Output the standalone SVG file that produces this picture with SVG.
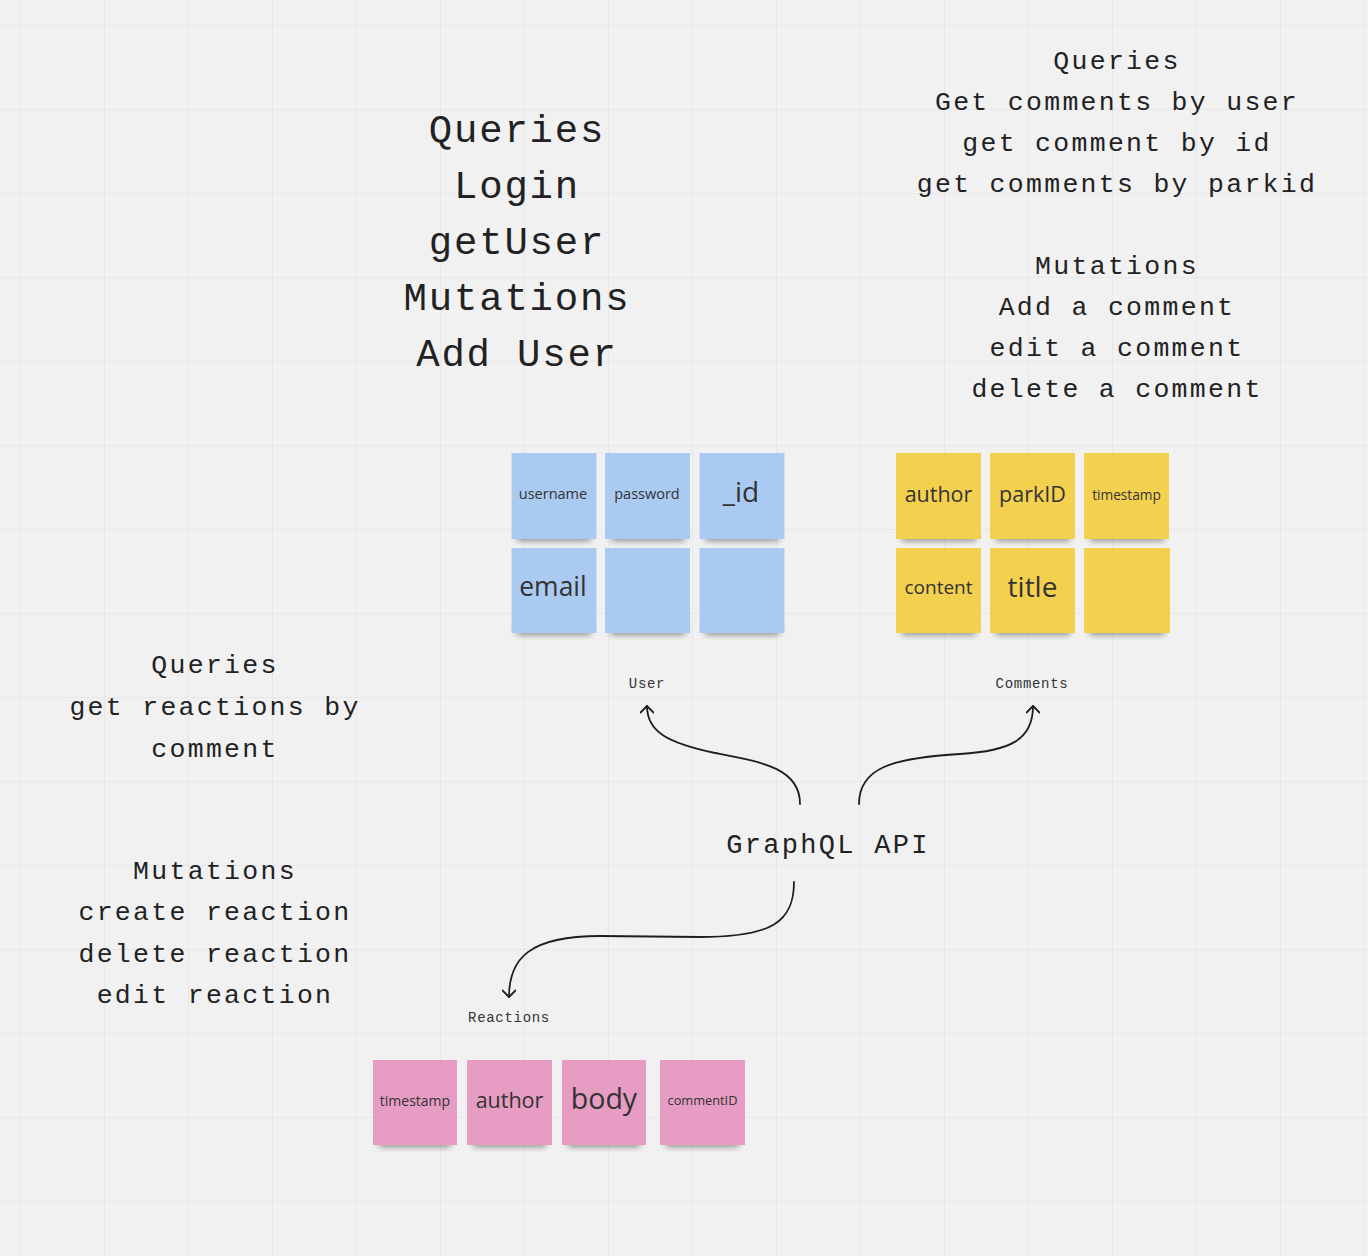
<svg xmlns="http://www.w3.org/2000/svg" width="1368" height="1256" viewBox="0 0 1368 1256">
<defs>
<pattern id="grid" x="20" y="25" width="84" height="84" patternUnits="userSpaceOnUse">
<path d="M0 0 H84 M0 0 V84" stroke="#e3e3e5" stroke-width="1.5" fill="none"/>
</pattern>
<filter id="sh" x="-20%" y="-50%" width="140%" height="200%">
<feGaussianBlur stdDeviation="3"/>
</filter>
<marker id="ah" viewBox="0 0 14 14" refX="8" refY="7" markerWidth="14" markerHeight="14" markerUnits="userSpaceOnUse" orient="auto">
<path d="M1.5 0.5 L8 7 L1.5 13.5" fill="none" stroke="#1e1e1e" stroke-width="1.8" stroke-linecap="round" stroke-linejoin="round"/>
</marker>
</defs>
<style>
.mono{font-family:"Liberation Mono","DejaVu Sans Mono",monospace;fill:#222;text-anchor:middle}
.big{font-size:39px;letter-spacing:1.8px}
.mid{font-size:26.5px;letter-spacing:2.3px}
.sm{font-size:14px;letter-spacing:0.7px;fill:#333}
.note text{font-family:"Open Sans","Noto Sans",sans-serif;fill:#333;text-anchor:middle;dominant-baseline:central}
.blue{fill:#abcaf1}
.yellow{fill:#f4d04f}
.pink{fill:#e69cc3}
.shadow{fill:#000;opacity:0.4;filter:url(#sh)}
.conn path{fill:none;stroke:#1e1e1e;stroke-width:1.8;stroke-linecap:round}
</style>
<rect width="1368" height="1256" fill="#f1f1f2"/>
<rect width="1368" height="1256" fill="url(#grid)"/>

<g id="user-ops">
<text class="mono big" x="517" y="142">Queries</text>
<text class="mono big" x="517" y="198">Login</text>
<text class="mono big" x="517" y="254">getUser</text>
<text class="mono big" x="517" y="310">Mutations</text>
<text class="mono big" x="517" y="366">Add User</text>
</g>

<g id="comment-ops">
<text class="mono mid" x="1117" y="68.5">Queries</text>
<text class="mono mid" x="1117" y="109.7">Get comments by user</text>
<text class="mono mid" x="1117" y="150.9">get comment by id</text>
<text class="mono mid" x="1117" y="192">get comments by parkid</text>
<text class="mono mid" x="1117" y="273.5">Mutations</text>
<text class="mono mid" x="1117" y="314.7">Add a comment</text>
<text class="mono mid" x="1117" y="355.9">edit a comment</text>
<text class="mono mid" x="1117" y="397">delete a comment</text>
</g>

<g id="reaction-ops">
<text class="mono mid" x="215" y="673">Queries</text>
<text class="mono mid" x="215" y="715">get reactions by</text>
<text class="mono mid" x="215" y="756.5">comment</text>
<text class="mono mid" x="215" y="879">Mutations</text>
<text class="mono mid" x="215" y="920">create reaction</text>
<text class="mono mid" x="215" y="961.5">delete reaction</text>
<text class="mono mid" x="215" y="1002.5">edit reaction</text>
</g>

<g id="graphql-api">
<text class="mono mid" x="828" y="853" style="font-size:27px">GraphQL API</text>
</g>

<g id="user-label"><text class="mono sm" x="647" y="688">User</text></g>
<g id="comments-label"><text class="mono sm" x="1032" y="688">Comments</text></g>
<g id="reactions-label"><text class="mono sm" x="509" y="1022">Reactions</text></g>

<g id="user-notes" class="note">
<rect class="shadow" x="517" y="531" width="74" height="10"/>
<rect class="shadow" x="611" y="531" width="74" height="10"/>
<rect class="shadow" x="705" y="531" width="74" height="10"/>
<rect class="shadow" x="517" y="625" width="74" height="10"/>
<rect class="shadow" x="611" y="625" width="74" height="10"/>
<rect class="shadow" x="705" y="625" width="74" height="10"/>
<rect class="blue" x="511.5" y="453" width="85" height="86"/>
<rect class="blue" x="605" y="453" width="85" height="86"/>
<rect class="blue" x="699.5" y="453" width="85" height="86"/>
<rect class="blue" x="511.5" y="548" width="85" height="85"/>
<rect class="blue" x="605" y="548" width="85" height="85"/>
<rect class="blue" x="699.5" y="548" width="85" height="85"/>
<text x="553" y="493" font-size="14.5">username</text>
<text x="647" y="493" font-size="14.5">password</text>
<text x="741" y="491" font-size="28">_id</text>
<text x="553" y="586" font-size="26.5">email</text>
</g>

<g id="comment-notes" class="note">
<rect class="shadow" x="902" y="531" width="74" height="10"/>
<rect class="shadow" x="996" y="531" width="74" height="10"/>
<rect class="shadow" x="1090" y="531" width="74" height="10"/>
<rect class="shadow" x="902" y="625" width="74" height="10"/>
<rect class="shadow" x="996" y="625" width="74" height="10"/>
<rect class="shadow" x="1090" y="625" width="74" height="10"/>
<rect class="yellow" x="896" y="453" width="85" height="86"/>
<rect class="yellow" x="990" y="453" width="85" height="86"/>
<rect class="yellow" x="1084" y="453" width="85" height="86"/>
<rect class="yellow" x="896" y="548" width="85" height="85"/>
<rect class="yellow" x="990" y="548" width="85" height="85"/>
<rect class="yellow" x="1084" y="548" width="86" height="85"/>
<text x="938.5" y="493" font-size="21.5">author</text>
<text x="1032.5" y="493" font-size="21.5">parkID</text>
<text x="1126.5" y="494" font-size="13.7">timestamp</text>
<text x="938.5" y="587" font-size="19">content</text>
<text x="1032.5" y="586" font-size="28">title</text>
</g>

<g id="reaction-notes" class="note">
<rect class="shadow" x="379" y="1137" width="72" height="10"/>
<rect class="shadow" x="473" y="1137" width="73" height="10"/>
<rect class="shadow" x="568" y="1137" width="72" height="10"/>
<rect class="shadow" x="666" y="1137" width="73" height="10"/>
<rect class="pink" x="373" y="1060" width="84" height="85"/>
<rect class="pink" x="467" y="1060" width="85" height="85"/>
<rect class="pink" x="562" y="1060" width="84" height="85"/>
<rect class="pink" x="660" y="1060" width="85" height="85"/>
<text x="415" y="1100" font-size="14">timestamp</text>
<text x="509.5" y="1099" font-size="21.5">author</text>
<text x="604" y="1098" font-size="28.5">body</text>
<text x="702.5" y="1100" font-size="12.8">commentID</text>
</g>

<g id="connectors" class="conn">
<path d="M800 804 C800 768 762 762 715 753 C668 743 647 732 647 706" marker-end="url(#ah)"/>
<path d="M859 804 C859 768 892 758 960 754 C1010 751 1033 740 1033 706" marker-end="url(#ah)"/>
<path d="M794 882 C794 922 772 937 700 937 L600 936 C530 936 509 958 509 997" marker-end="url(#ah)"/>
</g>
</svg>
